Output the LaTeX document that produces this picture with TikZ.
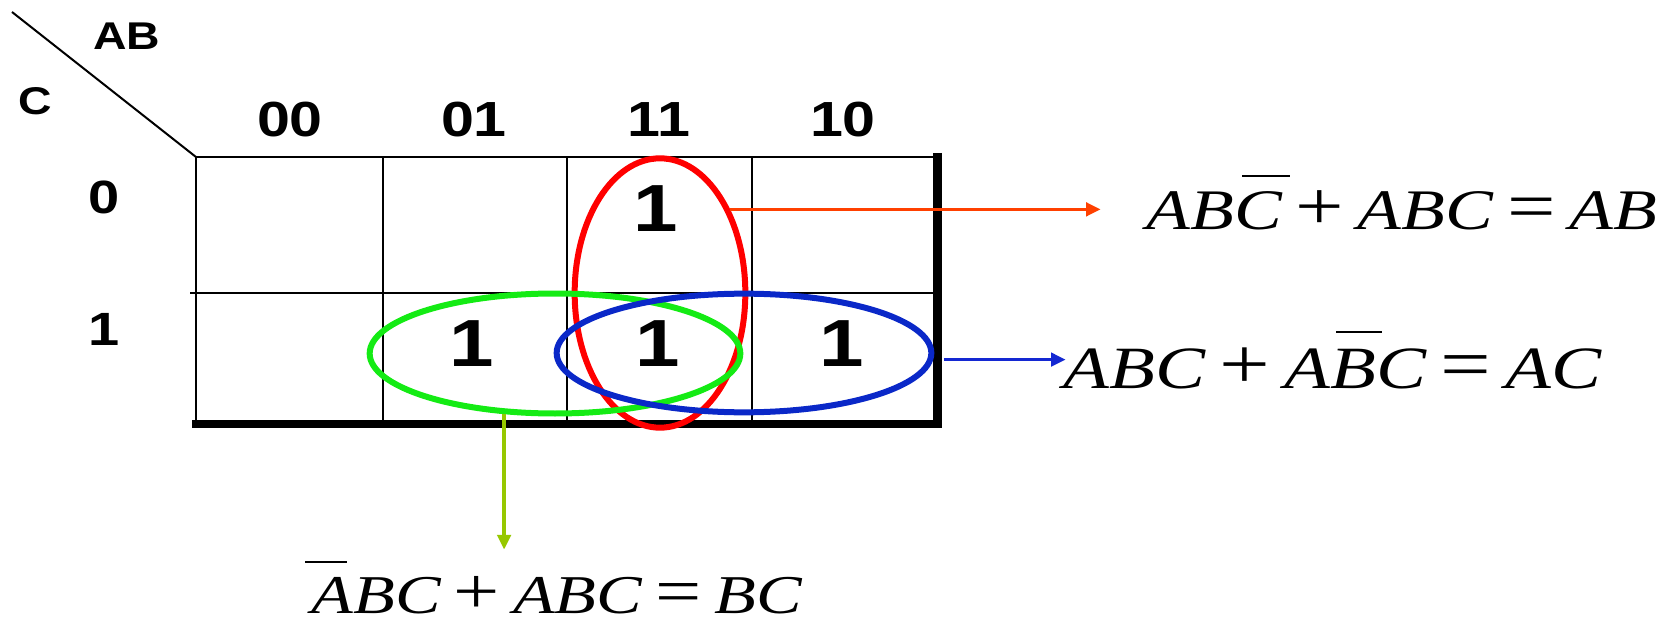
\documentclass[tikz,border=0pt]{standalone}
\usepackage{fontspec}
\usepackage{graphicx}
\setmainfont{Liberation Sans}[FakeStretch=1.2]
\newfontfamily\eqfont{Liberation Serif}[FakeStretch=1.25]
\usetikzlibrary{shapes.geometric,arrows.meta}

% bar over one letter, moved right by #1 of the letter width
\newcommand\ovbar[2][0]{\setbox0\hbox{#2}\rlap{\hskip#1\wd0\rule[0.92em]{\wd0}{0.035em}}\box0}
% plus and equals, a little larger than the letters
\newcommand\eqop[1]{\hspace{0.24em}{\upshape\scalebox{1.2}{#1}}\hspace{0.24em}}

\tikzset{every picture/.style={line width=0.75pt}}
\tikzset{
  ring/.style={ellipse, inner sep=0pt, line width=4.5pt},
  pointer/.style={line width=2.75pt, -{Triangle[length=11pt,width=10pt]}},
  gridline/.style={line width=1.5pt},
  frame/.style={line width=6.5pt},
  head/.style={inner sep=0.75pt, font=\fontsize{37}{40}\selectfont\bfseries},
  one/.style={inner sep=0.75pt, font=\fontsize{50}{54}\selectfont\bfseries},
  eq/.style={anchor=base west, inner sep=0pt},
}

\begin{document}
\begin{tikzpicture}[x=0.75pt,y=0.75pt,yscale=-1,xscale=1]
%set diagram left start at 0, and has height of 624
\path (0,0) rectangle (1668,624);

%Straight Lines [corner split]
\draw [line width=1.5pt] (12,12) -- (196,157) ;
%Straight Lines [grid rows]
\draw [gridline] (196,157) -- (937,157) ;
\draw [gridline] (190,293) -- (937,293) ;
%Straight Lines [grid columns]
\draw [gridline] (196,157) -- (196,424) ;
\draw [gridline] (383,157) -- (383,424) ;
\draw [gridline] (567,157) -- (567,424) ;
\draw [gridline] (752,157) -- (752,424) ;
%Straight Lines [heavy edges]
\draw [frame] (937.5,153) -- (937.5,428) ;
\draw [frame] (192,424) -- (941,424) ;

% Text Node
\draw (127,36) node [inner sep=0.75pt] [font=\fontsize{29}{32}\selectfont\bfseries] (abvar) {AB};
% Text Node
\draw (35,101) node [inner sep=0.75pt] [font=\fontsize{29}{32}\selectfont\bfseries] (cvar) {C};
% Text Node
\draw (290,120) node [head] (h00) {00};
% Text Node
\draw (474,120) node [head] (h01) {01};
% Text Node
\draw (659,120) node [head] (h11) {11};
% Text Node
\draw (843,120) node [head] (h10) {10};
% Text Node
\draw (104,197) node [head, font=\fontsize{35}{38}\selectfont\bfseries] (r0) {0};
% Text Node
\draw (104,329) node [head, font=\fontsize{35}{38}\selectfont\bfseries] (r1) {1};

% Text Node
\draw (656,209) node [one] (m6) {1};
% Text Node
\draw (472,344) node [one] (m3) {1};
% Text Node
\draw (658,344) node [one] (m7) {1};
% Text Node
\draw (842,344) node [one] (m5) {1};

%Shape: Ellipse [AB group]
\draw (660,293) node [ring, draw={rgb, 255:red, 255; green, 0; blue, 0 }, minimum width=128pt, minimum height=202pt] (redloop) {};
%Shape: Ellipse [BC group]
\draw (555,353.5) node [ring, draw={rgb, 255:red, 20; green, 235; blue, 20 }, minimum width=278pt, minimum height=90pt] (greenloop) {};
%Shape: Ellipse [AC group]
\draw (744,353) node [ring, draw={rgb, 255:red, 10; green, 40; blue, 200 }, minimum width=281pt, minimum height=89pt] (blueloop) {};

% Text Node
\draw (1146,230) node [eq] [font=\eqfont\fontsize{43}{46}\selectfont\itshape] (eqab) {AB\ovbar[0.17]{C}\eqop{+}ABC\eqop{=}AB};
% Text Node
\draw (1063,388) node [eq] [font=\eqfont\fontsize{45}{48}\selectfont\itshape] (eqac) {ABC\eqop{+}A\ovbar[0.12]{B}C\eqop{=}AC};
% Text Node
\draw (311,613) node [eq] [font=\eqfont\fontsize{41}{44}\selectfont\itshape] (eqbc) {\ovbar[-0.15]{A}BC\eqop{+}ABC\eqop{=}BC};

%Straight Lines [arrows to results]
\draw [pointer, color={rgb, 255:red, 255; green, 64; blue, 0 }, shorten >=34pt] (redloop.50) -- (eqab.west |- redloop.50) ;
\draw [pointer, color={rgb, 255:red, 20; green, 40; blue, 210 }, shorten <=8pt, shorten >=-2pt] (blueloop.-2.5) -- (eqac.west |- blueloop.-2.5) ;
\draw [pointer, color={rgb, 255:red, 150; green, 200; blue, 0 }, shorten >=8pt] (greenloop.-130) -- (greenloop.-130 |- eqbc.north) ;

\end{tikzpicture}
\end{document}
